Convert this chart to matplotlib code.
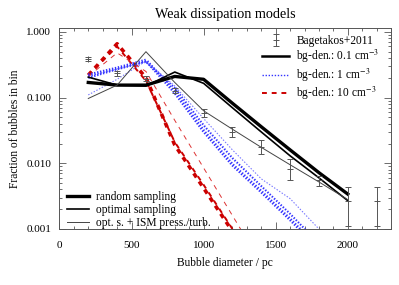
import numpy as np
import matplotlib
matplotlib.use("Agg")
import matplotlib.pyplot as plt
from matplotlib.lines import Line2D
from matplotlib.ticker import MultipleLocator, LogLocator, FixedLocator, NullFormatter

plt.rcParams['font.family'] = ['Liberation Serif', 'DejaVu Serif']
plt.rcParams['mathtext.fontset'] = 'stix'
plt.rcParams['lines.scale_dashes'] = False

# Bagetakos+2011 observations
obs_d = [200, 400, 600, 800, 1000, 1200, 1400, 1600, 1800, 2000, 2200]
obs_f = [0.39, 0.235, 0.195, 0.128, 0.058, 0.030, 0.0176, 0.0081, 0.0055, 0.0027, 0.0027]
obs_lo = [0.36, 0.216, 0.178, 0.116, 0.050, 0.025, 0.0139, 0.0056, 0.0045, 0.0011, 0.0011]
obs_hi = [0.42, 0.255, 0.216, 0.142, 0.067, 0.036, 0.0226, 0.0116, 0.0064, 0.0043, 0.0043]

# model bins
d = [200, 400, 600, 800, 1000, 1200, 1400, 1600, 1800, 2000]

# bg-den 0.1 cm^-3
b01_rand = [0.17, 0.155, 0.155, 0.21, 0.19, 0.082, 0.036, 0.016, 0.0072, 0.0034]
b01_opt = [0.205, 0.155, 0.15, 0.245, 0.165, 0.070, 0.030, 0.013, 0.006, 0.0027]
b01_ism = [0.097, 0.155, 0.50, 0.17, 0.063, 0.033, 0.0175, 0.0095, 0.0052, 0.0028]

# bg-den 1 cm^-3
b1_rand = [0.22, 0.28, 0.37, 0.12, 0.031, 0.0095, 0.0037, 0.0014, 0.0005]
b1_opt = [0.20, 0.27, 0.35, 0.14, 0.038, 0.012, 0.0045, 0.0017, 0.0006]
b1_ism = [0.11, 0.19, 0.36, 0.15, 0.048, 0.016, 0.0058, 0.0029, 0.0010]

# bg-den 10 cm^-3
b10_rand = [0.22, 0.66, 0.20, 0.019, 0.0042, 0.00092]
b10_opt = [0.22, 0.60, 0.18, 0.021, 0.0047, 0.0010]
b10_ism = [0.21, 0.48, 0.25, 0.045, 0.0085, 0.0016, 0.0003]

fig = plt.figure(figsize=(3.99, 2.85), dpi=100)
ax = fig.add_axes([0.149, 0.1965, 0.831, 0.7055])

blue = '#3333ff'
lblue = '#7777ff'
red = '#cc0000'
lred = '#dd3333'

dash = (0, (3.5, 3.5))
dot = (0, (1, 1.2))

ax.plot(d[:len(b10_rand)], b10_rand, color=red, lw=2.6, ls=dash)
ax.plot(d[:len(b10_opt)], b10_opt, color=red, lw=1.4, ls=dash)
ax.plot(d[:len(b10_ism)], b10_ism, color=lred, lw=0.7, ls=dash)

ax.plot(d[:len(b1_rand)], b1_rand, color=blue, lw=2.4, ls=dot)
ax.plot(d[:len(b1_opt)], b1_opt, color=blue, lw=1.5, ls=dot)
ax.plot(d[:len(b1_ism)], b1_ism, color=lblue, lw=0.8, ls=dot)

ax.plot(d, b01_rand, color='black', lw=2.4)
ax.plot(d, b01_opt, color='black', lw=1.2)
ax.plot(d, b01_ism, color='#444444', lw=0.7)

yerr = [np.array(obs_f) - np.array(obs_lo), np.array(obs_hi) - np.array(obs_f)]
eb = ax.errorbar(obs_d, obs_f, yerr=yerr, fmt='+', color='#555555', ms=4,
                 mew=0.7, elinewidth=0.7, capsize=2.5, capthick=0.7)

ax.set_yscale('log')
ax.set_xlim(0, 2300)
ax.set_ylim(0.001, 1.15)

ax.xaxis.set_major_locator(MultipleLocator(500))
ax.xaxis.set_minor_locator(MultipleLocator(100))
ax.yaxis.set_major_locator(FixedLocator([0.001, 0.01, 0.1, 1.0]))
ax.yaxis.set_minor_locator(LogLocator(base=10, subs=np.arange(2, 10)))
ax.yaxis.set_minor_formatter(NullFormatter())
ax.set_yticklabels(['0.001', '0.010', '0.100', '1.000'])

ax.tick_params(which='both', direction='in', top=True, right=True,
               labelsize=8, color='#555555', width=0.6)
ax.tick_params(which='major', length=5)
ax.tick_params(which='minor', length=2.5)
ax.tick_params(axis='x', pad=9)
ax.tick_params(axis='y', pad=6)
for s in ax.spines.values():
    s.set_linewidth(0.7)
    s.set_color('#555555')

ax.set_title('Weak dissipation models', fontsize=10.2, pad=7)
ax.set_xlabel('Bubble diameter / pc', fontsize=8.3)
ax.set_ylabel('Fraction of bubbles in bin', fontsize=8.3)
ax.xaxis.set_label_coords(0.5, -0.14)
ax.yaxis.set_label_coords(-0.115, 0.5)

h_den = [eb,
         Line2D([], [], color='black', lw=1.8),
         Line2D([], [], color=blue, lw=1.0, ls=dot),
         Line2D([], [], color=red, lw=1.4, ls=dash)]
l_den = ['Bagetakos+2011',
         'bg-den.: 0.1 cm$^{-3}$',
         'bg-den.: 1 cm$^{-3}$',
         'bg-den.: 10 cm$^{-3}$']
leg1 = ax.legend(h_den, l_den, loc='upper left', bbox_to_anchor=(0.61, 0.965),
                 frameon=False, fontsize=8.3, handlelength=2.4, handletextpad=0.6,
                 labelspacing=0.1, borderpad=0, borderaxespad=0)
ax.add_artist(leg1)

h_mod = [Line2D([], [], color='black', lw=2.4),
         Line2D([], [], color='black', lw=1.2),
         Line2D([], [], color='#444444', lw=0.7)]
l_mod = ['random sampling', 'optimal sampling', 'opt. s. + ISM press./turb.']
ax.legend(h_mod, l_mod, loc='upper left', bbox_to_anchor=(0.022, 0.19),
          frameon=False, fontsize=8.3, handlelength=1.9, handletextpad=0.6,
          labelspacing=0.1, borderpad=0, borderaxespad=0)

fig.savefig('out.png', dpi=100)
